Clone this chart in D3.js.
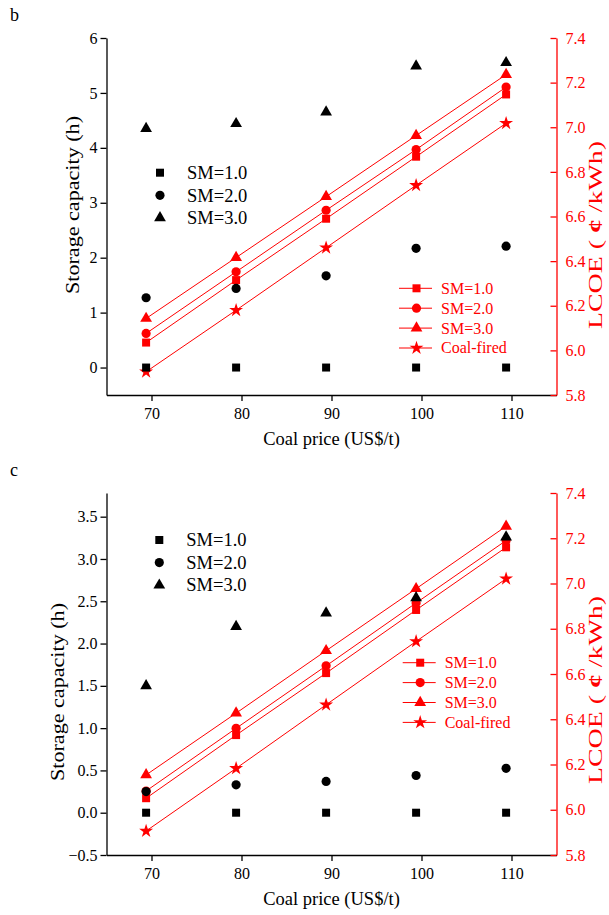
<!DOCTYPE html>
<html><head><meta charset="utf-8">
<script src="https://cdn.jsdelivr.net/npm/d3@7"></script>
<style>
body{margin:0;background:#fff;}
svg text{font-family:"Liberation Serif","Times New Roman",Times,serif !important;}
</style></head>
<body><svg id="chart" width="609" height="915"></svg>
<script>
// ---------------- data ----------------
const coalPrice = [69.4, 79.4, 89.4, 99.4, 109.4];
const xTicks = [70, 80, 90, 100, 110];
const xMinorTicks = [65, 75, 85, 95, 105, 115];

// panel b
const bStorageSM1 = [0, 0, 0, 0, 0];
const bStorageSM2 = [1.27, 1.44, 1.67, 2.17, 2.21];
const bStorageSM3 = [4.35, 4.44, 4.65, 5.49, 5.55];
const bLcoeSM1 = [6.035, 6.315, 6.59, 6.868, 7.147];
const bLcoeSM2 = [6.076, 6.352, 6.628, 6.90, 7.18];
const bLcoeSM3 = [6.143, 6.416, 6.689, 6.963, 7.236];
const bLcoeCoal = [5.904, 6.18, 6.46, 6.74, 7.018];
const bLeftTicks = [0, 1, 2, 3, 4, 5, 6];
const bLeftMinor = [-0.5, 0.5, 1.5, 2.5, 3.5, 4.5, 5.5];

// panel c
const cStorageSM1 = [0, 0, 0, 0, 0];
const cStorageSM2 = [0.25, 0.33, 0.37, 0.44, 0.525];
const cStorageSM3 = [1.50, 2.20, 2.36, 2.54, 3.26];
const cLcoeSM1 = [6.051, 6.33, 6.604, 6.883, 7.16];
const cLcoeSM2 = [6.083, 6.36, 6.636, 6.914, 7.19];
const cLcoeSM3 = [6.154, 6.427, 6.703, 6.977, 7.253];
const cLcoeCoal = [5.906, 6.183, 6.464, 6.744, 7.021];
const cLeftTicks = [-0.5, 0, 0.5, 1, 1.5, 2, 2.5, 3, 3.5];
const cLeftMinor = [-0.25, 0.25, 0.75, 1.25, 1.75, 2.25, 2.75, 3.25, 3.75];

const rightTicks = [5.8, 6.0, 6.2, 6.4, 6.6, 6.8, 7.0, 7.2, 7.4];
const rightMinor = [5.9, 6.1, 6.3, 6.5, 6.7, 6.9, 7.1, 7.3];

const seriesNames = ["SM=1.0", "SM=2.0", "SM=3.0"];
const lcoeNames = ["SM=1.0", "SM=2.0", "SM=3.0", "Coal-fired"];
const xTitle = "Coal price (US$/t)";
const yTitle = "Storage capacity (h)";

// ---------------- drawing ----------------
const svg = d3.select("#chart");
const RED = "#ff0000";
const FONT = "Liberation Serif, Times New Roman, serif";
const symTypes = [d3.symbolSquare, d3.symbolCircle, d3.symbolTriangle, d3.symbolStar];
const symSizes = [64, 66, 60, 60];

function panel(cfg) {
  const g = svg.append("g").attr("font-family", FONT);
  const x = d3.scaleLinear().domain([65, 115]).range([106.5, 556.5]);
  const yL = d3.scaleLinear().domain(cfg.leftDomain).range([cfg.bottom, cfg.top]);
  const yR = d3.scaleLinear().domain([5.8, 7.4]).range([cfg.bottom, cfg.top]);

  // panel letter
  g.append("text").attr("x", 10).attr("y", cfg.letterY).attr("font-size", 18).text(cfg.letter);

  // x axis
  const xa = g.append("g").attr("transform", `translate(0,${cfg.bottom})`);
  xa.call(d3.axisBottom(x).tickValues(xMinorTicks).tickSize(3).tickSizeOuter(0).tickFormat(""));
  xa.call(d3.axisBottom(x).tickValues(xTicks).tickSize(6).tickSizeOuter(0).tickPadding(7).tickFormat(d3.format("d")));
  xa.attr("font-family", FONT);
  xa.selectAll("path,line").attr("stroke", "#000").attr("stroke-width", 1.3);
  xa.selectAll("text").attr("font-size", 16).attr("fill", "#000");

  // left axis
  const la = g.append("g").attr("transform", `translate(106.5,0)`);
  la.call(d3.axisLeft(yL).tickValues(cfg.leftMinor).tickSize(3).tickSizeOuter(0).tickFormat(""));
  la.call(d3.axisLeft(yL).tickValues(cfg.leftTicks).tickSize(6).tickSizeOuter(0).tickPadding(3).tickFormat(cfg.leftFormat));
  la.attr("font-family", FONT);
  la.selectAll("path,line").attr("stroke", "#000").attr("stroke-width", 1.3);
  la.selectAll("text").attr("font-size", 16).attr("fill", "#000");

  // right axis (red, inward ticks)
  const ra = g.append("g").attr("transform", `translate(556.5,0)`);
  ra.call(d3.axisRight(yR).tickValues(rightMinor).tickSize(-3).tickSizeOuter(0).tickFormat(""));
  ra.call(d3.axisRight(yR).tickValues(rightTicks).tickSize(-6).tickSizeOuter(0).tickPadding(9).tickFormat(d3.format(".1f")));
  ra.attr("font-family", FONT);
  ra.selectAll("path,line").attr("stroke", RED).attr("stroke-width", 1.3);
  ra.selectAll("text").attr("font-size", 16).attr("fill", RED);

  // axis titles
  g.append("text").attr("x", 331.5).attr("y", cfg.bottom + 50).attr("text-anchor", "middle")
    .attr("font-size", 18.5).text(xTitle);
  g.append("text").attr("transform", `translate(${cfg.yTitleX},${cfg.yTitleY}) rotate(-90)`).attr("text-anchor", "middle")
    .attr("font-size", 19).attr("textLength", 178).attr("lengthAdjust", "spacingAndGlyphs").text(yTitle);
  const rt = g.append("text").attr("transform", `translate(602,${cfg.rTitleY}) rotate(-90)`).attr("text-anchor", "middle")
    .attr("font-size", 18).attr("fill", RED).attr("textLength", 188).attr("lengthAdjust", "spacingAndGlyphs");
  rt.append("tspan").text("LCOE ( ");
  rt.append("tspan").attr("font-weight", "bold").text("¢");
  rt.append("tspan").text(" /kWh)");

  // red lines + markers
  const line = d3.line().x((d, i) => x(coalPrice[i])).y(d => yR(d));
  cfg.lcoe.forEach((vals, k) => {
    g.append("path").attr("d", line(vals)).attr("fill", "none").attr("stroke", RED).attr("stroke-width", 1);
    g.selectAll(null).data(vals).enter().append("path")
      .attr("d", d3.symbol(symTypes[k], symSizes[k]))
      .attr("transform", (d, i) => `translate(${x(coalPrice[i])},${yR(d)})`)
      .attr("fill", RED);
  });

  // black scatter
  cfg.storage.forEach((vals, k) => {
    g.selectAll(null).data(vals).enter().append("path")
      .attr("d", d3.symbol(symTypes[k], symSizes[k]))
      .attr("transform", (d, i) => `translate(${x(coalPrice[i])},${yL(d)})`)
      .attr("fill", "#000");
  });

  // black legend
  seriesNames.forEach((n, k) => {
    const yy = cfg.blackLegY + k * 22.6;
    g.append("path").attr("d", d3.symbol(symTypes[k], symSizes[k])).attr("transform", `translate(${cfg.blackLegX},${yy})`).attr("fill", "#000");
    g.append("text").attr("x", cfg.blackLegX + 27).attr("y", yy + 6.2).attr("font-size", 18.5).text(n);
  });

  // red legend
  lcoeNames.forEach((n, k) => {
    const yy = cfg.redLegY + k * 19.9;
    const lx = cfg.redLegX;
    g.append("line").attr("x1", lx).attr("x2", lx + 33).attr("y1", yy).attr("y2", yy).attr("stroke", RED).attr("stroke-width", 1);
    g.append("path").attr("d", d3.symbol(symTypes[k], symSizes[k])).attr("transform", `translate(${lx + 17.5},${yy})`).attr("fill", RED);
    g.append("text").attr("x", lx + 42).attr("y", yy + 5.4).attr("font-size", 16).attr("fill", RED).text(n);
  });
}

panel({
  letter: "b", letterY: 21, top: 38, bottom: 395, leftDomain: [-0.5, 6],
  leftTicks: bLeftTicks, leftMinor: bLeftMinor, leftFormat: d3.format("d"),
  storage: [bStorageSM1, bStorageSM2, bStorageSM3],
  lcoe: [bLcoeSM1, bLcoeSM2, bLcoeSM3, bLcoeCoal],
  yTitleX: 79, yTitleY: 205, rTitleY: 235,
  blackLegX: 160, blackLegY: 172.7, redLegX: 399, redLegY: 288.3
});
panel({
  letter: "c", letterY: 476, top: 493, bottom: 855, leftDomain: [-0.5, 3.78],
  leftTicks: cLeftTicks, leftMinor: cLeftMinor, leftFormat: d3.format(".1f"),
  storage: [cStorageSM1, cStorageSM2, cStorageSM3],
  lcoe: [cLcoeSM1, cLcoeSM2, cLcoeSM3, cLcoeCoal],
  yTitleX: 64, yTitleY: 692, rTitleY: 690,
  blackLegX: 159.3, blackLegY: 540, redLegX: 402.7, redLegY: 662.7
});
</script></body></html>
